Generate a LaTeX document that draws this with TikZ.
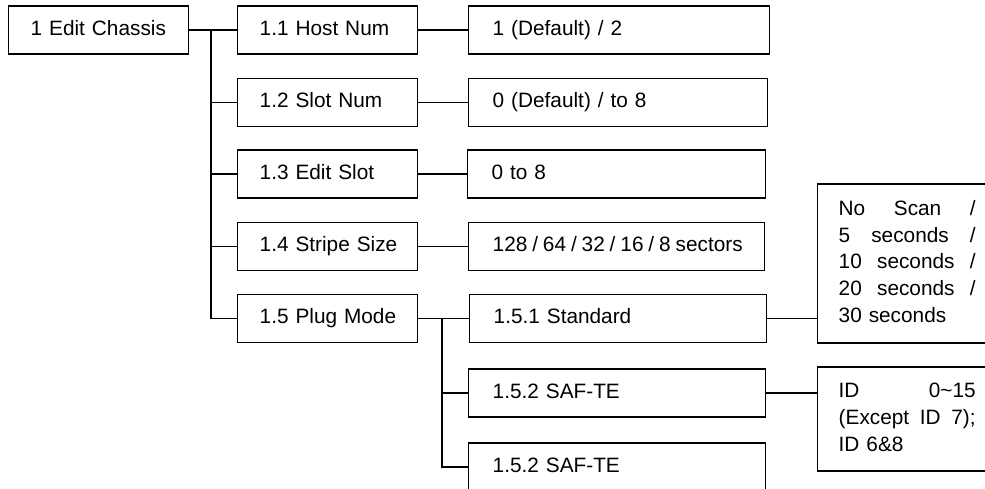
\documentclass[tikz,border=0pt]{standalone}
\usepackage{fontspec}
\setmainfont{Liberation Sans}
\setlength{\parindent}{0pt}
\begin{document}
\begin{tikzpicture}[x=1pt,y=-1pt,line width=1.4pt,
  frame/.style={draw,line width=1.4pt,anchor=west,minimum height=48pt,inner ysep=0pt,
    align=left,font=\fontsize{20.8}{26.7}\selectfont},
  oneline/.style={frame,execute at begin node={\strut\hbox\bgroup},execute at end node={\egroup\strut}},
  lbox/.style={oneline,inner xsep=22pt,text width=136pt},
  vbox/.style={oneline,inner xsep=24pt,text width=#1},
  rbox/.style={frame,inner xsep=21pt,text width=137pt,minimum height=#1,
    execute at begin node=\strut,execute at end node=\strut}]
\useasboundingbox (0,0) rectangle (985,488);
\clip (0,0) rectangle (985,488);

\node[lbox] (ec) at (8,30) {1 Edit Chassis};
\node[lbox] (h11) at (237,30) {1.1 Host Num};
\node[lbox] (h12) at (237,102.5) {1.2 Slot Num};
\node[lbox] (h13) at (237,174) {1.3 Edit Slot};
\node[lbox] (h14) at (237,246.5) {1.4 Stripe Size};
\node[lbox] (h15) at (237,318.5) {1.5 Plug Mode};

\node[vbox=253pt] (v11) at (468,30) {1 (Default) / 2};
\node[vbox=251pt] (v12) at (468,102.5) {0 (Default) / to 8};
\node[vbox=250pt] (v13) at (467,174) {0 to 8};
\node[vbox=248pt] (v14) at (468,246.5) {\makebox[250pt][s]{128\hfil/\hfil64\hfil/\hfil32\hfil/\hfil16\hfil/\hfil8\hfil sectors}};
\node[vbox=249pt] (s1) at (469,318.5) {1.5.1 Standard};
\node[vbox=249pt] (s2) at (468,393) {1.5.2 SAF-TE};
\node[vbox=249pt] (s3) at (468,467) {1.5.2 SAF-TE};

\node[rbox=159pt] (scan) at (817,263.5) {No\hfill Scan\hfill /\\
5\hfill seconds\hfill /\\
10\hfill seconds\hfill /\\
20\hfill seconds\hfill /\\
30 seconds};
\node[rbox=104pt] (id) at (817,419) {ID\hfill 0\textasciitilde 15\\
(Except\hfill ID\hfill 7);\\
ID 6\&8};

\coordinate (t1) at (211,30);
\draw (ec.east) -- (h11.west);
\foreach \n in {h12,h13,h14,h15} \draw (t1) |- (\n.west);
\draw (h11.east) -- (v11.west);
\draw (h12.east) -- (v12.west);
\draw (h13.east) -- (v13.west);
\draw (h14.east) -- (v14.west);
\draw (h15.east) -- (s1.west);
\coordinate (t2) at (442,318.5);
\draw (t2) |- (s2.west);
\draw (t2) |- (s3.west);
\draw (s1.east) -- (s1.east -| scan.west);
\draw (s2.east) -- (s2.east -| id.west);

\draw[line width=1.2pt] (283,126.8) -- (332,126.8);
\end{tikzpicture}
\end{document}
